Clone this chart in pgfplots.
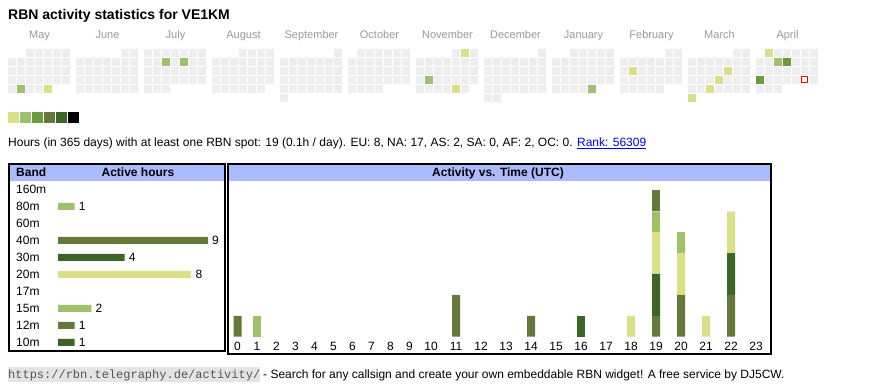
\documentclass[border=0pt]{standalone}
\usepackage{pgfplots}
\pgfplotsset{compat=1.18}
\usepackage{pgfplotstable}
\usepackage{fontspec}
\setmainfont{Liberation Sans}
\setmonofont{Liberation Mono}
\definecolor{Lone}{HTML}{D9E088}
\definecolor{Ltwo}{HTML}{9DC26B}
\definecolor{Lthree}{HTML}{6A9C3C}
\definecolor{Lfour}{HTML}{657A3A}
\definecolor{Lfive}{HTML}{3B6628}
\definecolor{Lsix}{HTML}{000000}
\definecolor{cellgray}{HTML}{EEEEEE}
\definecolor{hdrblue}{HTML}{AABBFF}
\definecolor{monthgray}{HTML}{999999}
\definecolor{linkblue}{HTML}{0000EE}
\definecolor{footgray}{HTML}{E4E4E4}
\definecolor{urlgray}{HTML}{555555}

% calendar: month index m (0 = May 2024 ... 11 = April 2025), weekday column c (Mon=0), week row r
\pgfplotstableread[row sep=\\]{
m c r\\
0 2 0\\0 3 0\\0 4 0\\0 5 0\\0 6 0\\
0 0 1\\0 1 1\\0 2 1\\0 3 1\\0 4 1\\0 5 1\\0 6 1\\
0 0 2\\0 1 2\\0 2 2\\0 3 2\\0 4 2\\0 5 2\\0 6 2\\
0 0 3\\0 1 3\\0 2 3\\0 3 3\\0 4 3\\0 5 3\\0 6 3\\
0 0 4\\0 1 4\\0 2 4\\0 3 4\\0 4 4\\
1 5 0\\1 6 0\\
1 0 1\\1 1 1\\1 2 1\\1 3 1\\1 4 1\\1 5 1\\1 6 1\\
1 0 2\\1 1 2\\1 2 2\\1 3 2\\1 4 2\\1 5 2\\1 6 2\\
1 0 3\\1 1 3\\1 2 3\\1 3 3\\1 4 3\\1 5 3\\1 6 3\\
1 0 4\\1 1 4\\1 2 4\\1 3 4\\1 4 4\\1 5 4\\1 6 4\\
2 0 0\\2 1 0\\2 2 0\\2 3 0\\2 4 0\\2 5 0\\2 6 0\\
2 0 1\\2 1 1\\2 2 1\\2 3 1\\2 4 1\\2 5 1\\2 6 1\\
2 0 2\\2 1 2\\2 2 2\\2 3 2\\2 4 2\\2 5 2\\2 6 2\\
2 0 3\\2 1 3\\2 2 3\\2 3 3\\2 4 3\\2 5 3\\2 6 3\\
2 0 4\\2 1 4\\2 2 4\\
3 3 0\\3 4 0\\3 5 0\\3 6 0\\
3 0 1\\3 1 1\\3 2 1\\3 3 1\\3 4 1\\3 5 1\\3 6 1\\
3 0 2\\3 1 2\\3 2 2\\3 3 2\\3 4 2\\3 5 2\\3 6 2\\
3 0 3\\3 1 3\\3 2 3\\3 3 3\\3 4 3\\3 5 3\\3 6 3\\
3 0 4\\3 1 4\\3 2 4\\3 3 4\\3 4 4\\3 5 4\\
4 6 0\\
4 0 1\\4 1 1\\4 2 1\\4 3 1\\4 4 1\\4 5 1\\4 6 1\\
4 0 2\\4 1 2\\4 2 2\\4 3 2\\4 4 2\\4 5 2\\4 6 2\\
4 0 3\\4 1 3\\4 2 3\\4 3 3\\4 4 3\\4 5 3\\4 6 3\\
4 0 4\\4 1 4\\4 2 4\\4 3 4\\4 4 4\\4 5 4\\4 6 4\\
4 0 5\\
5 1 0\\5 2 0\\5 3 0\\5 4 0\\5 5 0\\5 6 0\\
5 0 1\\5 1 1\\5 2 1\\5 3 1\\5 4 1\\5 5 1\\5 6 1\\
5 0 2\\5 1 2\\5 2 2\\5 3 2\\5 4 2\\5 5 2\\5 6 2\\
5 0 3\\5 1 3\\5 2 3\\5 3 3\\5 4 3\\5 5 3\\5 6 3\\
5 0 4\\5 1 4\\5 2 4\\5 3 4\\
6 4 0\\6 5 0\\6 6 0\\
6 0 1\\6 1 1\\6 2 1\\6 3 1\\6 4 1\\6 5 1\\6 6 1\\
6 0 2\\6 1 2\\6 2 2\\6 3 2\\6 4 2\\6 5 2\\6 6 2\\
6 0 3\\6 1 3\\6 2 3\\6 3 3\\6 4 3\\6 5 3\\6 6 3\\
6 0 4\\6 1 4\\6 2 4\\6 3 4\\6 4 4\\6 5 4\\
7 6 0\\
7 0 1\\7 1 1\\7 2 1\\7 3 1\\7 4 1\\7 5 1\\7 6 1\\
7 0 2\\7 1 2\\7 2 2\\7 3 2\\7 4 2\\7 5 2\\7 6 2\\
7 0 3\\7 1 3\\7 2 3\\7 3 3\\7 4 3\\7 5 3\\7 6 3\\
7 0 4\\7 1 4\\7 2 4\\7 3 4\\7 4 4\\7 5 4\\7 6 4\\
7 0 5\\7 1 5\\
8 2 0\\8 3 0\\8 4 0\\8 5 0\\8 6 0\\
8 0 1\\8 1 1\\8 2 1\\8 3 1\\8 4 1\\8 5 1\\8 6 1\\
8 0 2\\8 1 2\\8 2 2\\8 3 2\\8 4 2\\8 5 2\\8 6 2\\
8 0 3\\8 1 3\\8 2 3\\8 3 3\\8 4 3\\8 5 3\\8 6 3\\
8 0 4\\8 1 4\\8 2 4\\8 3 4\\8 4 4\\
9 5 0\\9 6 0\\
9 0 1\\9 1 1\\9 2 1\\9 3 1\\9 4 1\\9 5 1\\9 6 1\\
9 0 2\\9 1 2\\9 2 2\\9 3 2\\9 4 2\\9 5 2\\9 6 2\\
9 0 3\\9 1 3\\9 2 3\\9 3 3\\9 4 3\\9 5 3\\9 6 3\\
9 0 4\\9 1 4\\9 2 4\\9 3 4\\9 4 4\\
10 5 0\\10 6 0\\
10 0 1\\10 1 1\\10 2 1\\10 3 1\\10 4 1\\10 5 1\\10 6 1\\
10 0 2\\10 1 2\\10 2 2\\10 3 2\\10 4 2\\10 5 2\\10 6 2\\
10 0 3\\10 1 3\\10 2 3\\10 3 3\\10 4 3\\10 5 3\\10 6 3\\
10 0 4\\10 1 4\\10 2 4\\10 3 4\\10 4 4\\10 5 4\\10 6 4\\
10 0 5\\
11 1 0\\11 2 0\\11 3 0\\11 4 0\\11 5 0\\11 6 0\\
11 0 1\\11 1 1\\11 2 1\\11 3 1\\11 4 1\\11 5 1\\11 6 1\\
11 0 2\\11 1 2\\11 2 2\\11 3 2\\11 4 2\\11 5 2\\11 6 2\\
11 0 3\\11 1 3\\11 2 3\\11 3 3\\11 4 3\\11 5 3\\11 6 3\\
11 0 4\\11 1 4\\11 2 4\\
}\alldays

\pgfplotstableread[row sep=\\]{
m c r\\
0 4 4\\6 5 0\\6 4 4\\9 1 2\\10 4 2\\10 3 3\\10 2 4\\10 0 5\\11 1 0\\
}\levelone
\pgfplotstableread[row sep=\\]{
m c r\\
0 1 4\\2 2 1\\2 4 1\\6 1 3\\8 4 4\\11 2 1\\
}\leveltwo
\pgfplotstableread[row sep=\\]{
m c r\\
11 3 1\\11 0 3\\
}\levelthree
\pgfplotstableread[row sep=\\]{
m c r\\
11 5 3\\
}\todaycell

% activity per UTC hour, stacked by band (pos = column centre)
\pgfplotstableread{
pos b80 b40 b30 b20 b15 b12 b10
237.5 0 1 0 0 0 0 0
257 1 0 0 0 0 0 0
456 0 2 0 0 0 0 0
531 0 1 0 0 0 0 0
581 0 0 0 0 0 0 1
631 0 0 0 1 0 0 0
656 0 1 2 2 1 1 0
681 0 2 0 2 1 0 0
706 0 0 0 1 0 0 0
731 0 2 2 2 0 0 0
}\hourdata

\tikzset{txt/.style={inner sep=0pt, anchor=base west},
  mlab/.style={inner sep=0pt, anchor=base, text=monthgray, font=\fontsize{11}{13}\selectfont},
  cell/.style={only marks, mark=square*, mark size=3.3pt,
    mark options={draw=#1, fill=#1, line width=0.4pt}},
  key/.style={only marks, mark=square*, mark size=4.8pt,
    mark options={draw=#1, fill=#1, line width=0.4pt}}}

\begin{document}
\fontsize{12}{14}\selectfont
\begin{tikzpicture}
\path[use as bounding box] (0,0) rectangle (870pt,390pt);

\begin{axis}[at={(0pt,0pt)}, anchor=south west, scale only axis,
  width=870pt, height=390pt, xmin=0, xmax=870, ymin=0, ymax=390,
  y dir=reverse, hide axis, clip=false]
% calendar cells
\addplot[cell=cellgray]
  table[x expr={11.5+68*\thisrow{m}+9*\thisrow{c}}, y expr={52.5+9*\thisrow{r}}]{\alldays};
\addplot[cell=Lone]
  table[x expr={11.5+68*\thisrow{m}+9*\thisrow{c}}, y expr={52.5+9*\thisrow{r}}]{\levelone};
\addplot[cell=Ltwo]
  table[x expr={11.5+68*\thisrow{m}+9*\thisrow{c}}, y expr={52.5+9*\thisrow{r}}]{\leveltwo};
\addplot[cell=Lthree]
  table[x expr={11.5+68*\thisrow{m}+9*\thisrow{c}}, y expr={52.5+9*\thisrow{r}}]{\levelthree};
\addplot[only marks, mark=square*, mark size=3pt,
  mark options={draw=red, fill=white, line width=1pt}]
  table[x expr={11.5+68*\thisrow{m}+9*\thisrow{c}}, y expr={52.5+9*\thisrow{r}}]{\todaycell};
% colour scale
\addplot[key=Lone] coordinates {(13,117)};
\addplot[key=Ltwo] coordinates {(25,117)};
\addplot[key=Lthree] coordinates {(37,117)};
\addplot[key=Lfour] coordinates {(49,117)};
\addplot[key=Lfive] coordinates {(61,117)};
\addplot[key=Lsix] coordinates {(73,117)};

% title
\node[txt, font=\fontsize{14}{16}\selectfont\bfseries] at (axis cs:8,20) {RBN activity statistics for VE1KM};
% month labels
\node[mlab] at (axis cs:39.5,39) {May};
\node[mlab] at (axis cs:107.5,39) {June};
\node[mlab] at (axis cs:175.5,39) {July};
\node[mlab] at (axis cs:243.5,39) {August};
\node[mlab] at (axis cs:311.5,39) {September};
\node[mlab] at (axis cs:379.5,39) {October};
\node[mlab] at (axis cs:447.5,39) {November};
\node[mlab] at (axis cs:515.5,39) {December};
\node[mlab] at (axis cs:583.5,39) {January};
\node[mlab] at (axis cs:651.5,39) {February};
\node[mlab] at (axis cs:719.5,39) {March};
\node[mlab] at (axis cs:787.5,39) {April};
% stats line
\node[txt] at (axis cs:8,147) {Hours (in 365 days) with at least one RBN spot: 19 (0.1h / day). EU: 8, NA: 17, AS: 2, SA: 0, AF: 2, OC: 0. \textcolor{linkblue}{\underline{Rank: 56309}}};

% band box
\fill[hdrblue] (axis cs:10,165) rectangle (axis cs:224,181);
\draw[line width=2pt] (axis cs:9,164) rectangle (axis cs:225,351);
\node[txt, font=\bfseries] at (axis cs:16,177) {Band};
\node[inner sep=0pt, anchor=base, font=\bfseries] at (axis cs:138,177) {Active hours};
% activity box
\fill[hdrblue] (axis cs:229,165) rectangle (axis cs:770,181);
\draw[line width=2pt] (axis cs:228,164) rectangle (axis cs:771,354);
\node[inner sep=0pt, anchor=base, font=\bfseries] at (axis cs:498,177) {Activity vs. Time (UTC)};

% footer
\node[anchor=base west, inner xsep=0pt, inner ysep=2pt, fill=footgray, text=urlgray,
  font=\ttfamily\fontsize{12}{14}\selectfont] at (axis cs:8,378) {https://rbn.telegraphy.de/activity/};
\node[txt] at (axis cs:263,378) {- Search for any callsign and create your own embeddable RBN widget! A free service by DJ5CW.};
\end{axis}

% active hours per band
\begin{axis}[at={(58pt,39.2pt)}, anchor=south west, scale only axis,
  width=166.7pt, height=170pt, xmin=0, xmax=10, ymin=-0.5, ymax=9.5,
  y dir=reverse, axis line style={draw=none}, xtick=\empty,
  ytick={0,1,2,3,4,5,6,7,8,9},
  yticklabels={160m,80m,60m,40m,30m,20m,17m,15m,12m,10m},
  ytick style={draw=none}, major tick length=0pt,
  yticklabel style={anchor=west, inner sep=0pt, xshift=-42pt},
  xbar, bar width=7pt, bar shift=0pt, clip=false,
  nodes near coords,
  nodes near coords style={text=black, /pgf/number format/assume math mode=true},
  /pgf/number format/assume math mode=true]
\addplot[fill=Ltwo, draw=none, bar shift=0pt] coordinates {(1,1) (2,7)};
\addplot[fill=Lfour, draw=none, bar shift=0pt] coordinates {(9,3) (1,8)};
\addplot[fill=Lfive, draw=none, bar shift=0pt] coordinates {(4,4) (1,9)};
\addplot[fill=Lone, draw=none, bar shift=0pt] coordinates {(8,5)};
\end{axis}

% activity vs time
\begin{axis}[at={(229pt,53.3pt)}, anchor=south west, scale only axis,
  width=541pt, height=154.7pt, xmin=229, xmax=770, ymin=0, ymax=7.4,
  ybar stacked, bar width=8pt, axis line style={draw=none}, ytick=\empty,
  xtick={237.5,257,276.5,295.5,314.5,333.5,352.5,371.5,390.5,409.5,431,456,481,506,531,556,581,606,631,656,681,706,731,756},
  xticklabels={0,1,2,3,4,5,6,7,8,9,10,11,12,13,14,15,16,17,18,19,20,21,22,23},
  xtick style={draw=none}, major tick length=0pt,
  xticklabel style={anchor=center, yshift=-9.5pt}, clip=false]
\addplot[fill=Ltwo, draw=none] table[x=pos, y=b80]{\hourdata};
\addplot[fill=Lfour, draw=none] table[x=pos, y=b40]{\hourdata};
\addplot[fill=Lfive, draw=none] table[x=pos, y=b30]{\hourdata};
\addplot[fill=Lone, draw=none] table[x=pos, y=b20]{\hourdata};
\addplot[fill=Ltwo, draw=none] table[x=pos, y=b15]{\hourdata};
\addplot[fill=Lfour, draw=none] table[x=pos, y=b12]{\hourdata};
\addplot[fill=Lfive, draw=none] table[x=pos, y=b10]{\hourdata};
\end{axis}
\end{tikzpicture}
\end{document}
